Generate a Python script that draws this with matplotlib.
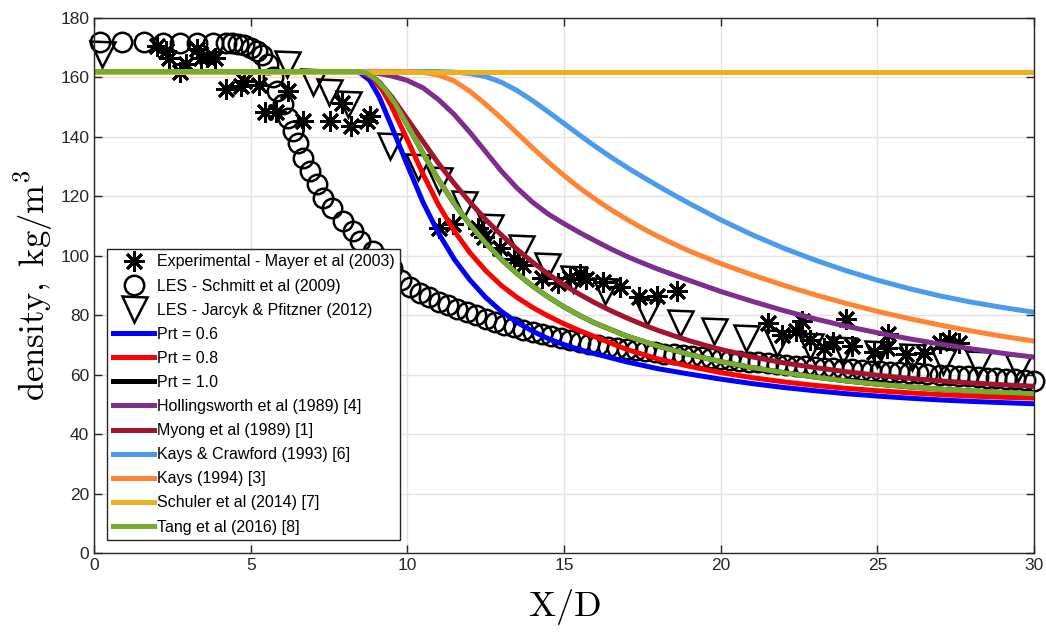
import matplotlib
matplotlib.use("Agg")
import matplotlib.pyplot as plt

plt.rcParams['mathtext.fontset'] = 'cm'
plt.rcParams['font.family'] = ['Liberation Sans', 'DejaVu Sans']

# model curves (density vs X/D)
blue_x = [0, 8.2, 8.5, 8.8, 9.1, 9.5, 10.0, 10.5, 11.0, 11.5, 12.0, 12.5, 13.0, 13.5, 14.0, 14.5, 15.0, 15.5, 16.0,
          17.0, 18.0, 19.0, 20.0, 21.0, 22.0, 23.0, 24.0, 25.0, 26.0, 27.0, 28.0, 29.0, 30.0]
blue_y = [162, 162, 161.5, 159, 153.5, 143.5, 130.5, 118, 107.5, 98.8, 91.8, 86, 81.3, 77.6, 74.6, 72.1, 70.1, 68.4, 67,
          64.3, 62, 60.2, 58.5, 57, 55.7, 54.6, 53.6, 52.8, 52.1, 51.5, 51, 50.6, 50.2]

red_x = [0, 8.3, 8.6, 8.9, 9.2, 9.5, 10.0, 10.5, 11.0, 11.5, 12.0, 12.5, 13.0, 13.5, 14.0, 14.5, 15.0, 15.5, 16.0,
         17.0, 18.0, 19.0, 20.0, 21.0, 22.0, 23.0, 24.0, 25.0, 26.0, 27.0, 28.0, 29.0, 30.0]
red_y = [162, 162, 161.5, 159.8, 155.8, 150.2, 139, 127.5, 117, 108.3, 101, 95, 90, 86, 82.6, 79.7, 77.1, 74.8, 72.7,
         68.5, 65.3, 62.8, 60.7, 59, 57.6, 56.4, 55.4, 54.6, 53.9, 53.3, 52.8, 52.4, 52.1]

prt10_x = [0, 8.4, 8.7, 9.0, 9.3, 9.6, 10.0, 10.5, 11.0, 11.5, 12.0, 12.5, 13.0, 13.5, 14.0, 14.5, 15.0, 15.5, 16.0,
           17.0, 18.0, 19.0, 20.0, 21.0, 22.0, 23.0, 24.0, 25.0, 26.0, 27.0, 28.0, 29.0, 30.0]
prt10_y = [162, 162, 161.5, 159.3, 155.8, 151.3, 144, 134.5, 125.5, 117.5, 110.5, 104.3, 98.8, 94, 89.8, 86.1, 82.8, 79.9, 77.3,
           73, 69.6, 66.8, 64.4, 62.4, 60.7, 59.2, 57.9, 56.8, 55.9, 55.1, 54.5, 54, 53.6]

holl_x = [0, 8.0, 9.0, 9.5, 10.0, 10.5, 11.0, 11.5, 12.0, 12.5, 13.0, 13.5, 14.0, 14.5, 15.0, 15.5, 16.0, 16.5, 17.0,
          17.5, 18.0, 18.5, 19.0, 20.0, 21.0, 22.0, 23.0, 24.0, 25.0, 26.0, 27.0, 28.0, 29.0, 30.0]
holl_y = [162, 162, 161.5, 160.5, 159, 156.5, 152.5, 147.5, 141.5, 135, 128.5, 122.8, 118, 114, 110.8, 107.8, 105, 102.3, 99.8,
          97.6, 95.5, 93.6, 91.7, 88, 84.7, 81.6, 78.8, 76.3, 74.1, 72.1, 70.3, 68.7, 67.2, 65.9]

myong_x = [0, 8.2, 8.5, 8.8, 9.1, 9.5, 10.0, 10.5, 11.0, 11.5, 12.0, 12.5, 13.0, 13.5, 14.0, 14.5, 15.0, 15.5, 16.0, 16.5,
           17.0, 17.5, 18.0, 18.5, 19.0, 19.5, 20.0, 21.0, 22.0, 23.0, 24.0, 25.0, 26.0, 27.0, 28.0, 29.0, 30.0]
myong_y = [162, 162, 161.8, 160.8, 158.5, 153.5, 146, 138.5, 131, 124.3, 118, 112.2, 107, 102.2, 97.8, 93.8, 90.2, 87, 84.1, 81.5,
           79.1, 76.9, 74.9, 73.1, 71.4, 69.9, 68.5, 66, 64, 62.4, 61, 59.8, 58.8, 57.9, 57.2, 56.6, 56.1]

kc_x = [0, 11.0, 11.5, 12.0, 12.5, 13.0, 13.5, 14.0, 14.5, 15.0, 15.5, 16.0, 16.5, 17.0, 17.5, 18.0, 18.5, 19.0,
        20.0, 21.0, 22.0, 23.0, 24.0, 25.0, 26.0, 27.0, 28.0, 29.0, 30.0]
kc_y = [162, 162, 161.8, 161.3, 160.3, 158.4, 155.6, 152.2, 148.4, 144.5, 140.6, 136.8, 133.2, 129.8, 126.6, 123.5, 120.5, 117.6,
        112.1, 107.1, 102.6, 98.6, 95, 91.8, 89, 86.5, 84.4, 82.6, 81]

kays_x = [0, 10.0, 10.5, 11.0, 11.5, 12.0, 12.5, 13.0, 13.5, 14.0, 14.5, 15.0, 15.5, 16.0, 16.5, 17.0, 17.5, 18.0, 18.5, 19.0,
          20.0, 21.0, 22.0, 23.0, 24.0, 25.0, 26.0, 27.0, 28.0, 29.0, 30.0]
kays_y = [162, 162, 161.7, 160.8, 158.8, 155.3, 151, 146.3, 141.3, 136.3, 131.5, 127, 122.8, 119, 115.5, 112.3, 109.3, 106.5, 104, 101.6,
          97.4, 93.6, 90.1, 86.9, 84, 81.3, 78.9, 76.7, 74.7, 72.9, 71.3]

schuler_x = [0, 30]
schuler_y = [162, 162]

tang_x = [0, 8.4, 8.7, 9.0, 9.3, 9.6, 10.0, 10.5, 11.0, 11.5, 12.0, 12.5, 13.0, 13.5, 14.0, 14.5, 15.0, 15.5, 16.0,
          17.0, 18.0, 19.0, 20.0, 21.0, 22.0, 23.0, 24.0, 25.0, 26.0, 27.0, 28.0, 29.0, 30.0]
tang_y = [162, 162, 161.5, 159.3, 155.8, 151.3, 144, 134.5, 125.5, 117.5, 110.5, 104.3, 98.8, 94, 89.8, 86.1, 82.8, 79.9, 77.3,
          73, 69.6, 66.8, 64.4, 62.4, 60.7, 59.2, 57.9, 56.8, 55.9, 55.1, 54.5, 54, 53.6]

# experimental / LES data
mayer_x = [2.0, 2.3, 2.4, 2.75, 2.95, 3.3, 3.4, 3.6, 3.85, 4.2, 4.7, 4.8, 5.25, 5.45, 5.8, 6.2, 6.67, 7.53, 7.92, 8.2, 8.7, 8.8,
           11.0, 11.45, 12.25, 12.45, 12.96, 13.4, 13.7, 14.3, 14.8, 15.2, 15.5, 15.7, 16.25, 16.8, 17.4, 17.97, 18.6,
           21.5, 21.95, 22.4, 22.6, 22.85, 23.3, 23.6, 24.0, 24.2, 24.9, 25.3, 25.35, 25.9, 26.5, 27.0, 27.3, 27.6]
mayer_y = [170.5, 168.8, 166.4, 162, 164.4, 169.5, 166.4, 167, 166.4, 156.2, 157, 158.7, 157.5, 148.5, 148.3, 155.4, 145.3, 145.3, 151.5, 143.6, 145.3, 147,
           109.5, 110.8, 109.4, 106.3, 102.7, 99, 96.8, 92.6, 90.8, 92.6, 94, 92.3, 91.2, 89.6, 86, 86.3, 88,
           77.5, 73.5, 74.8, 78.2, 71.5, 69.1, 71, 78.6, 69.5, 67.5, 69, 73.8, 66.8, 67.3, 70.8, 71.5, 70.6]

schmitt_x = [0.2, 0.9, 1.6, 2.2, 2.75, 3.3, 3.8, 4.2, 4.4, 4.6, 4.8, 5.0, 5.2, 5.36, 5.55, 5.7, 5.84, 6.03, 6.2, 6.35, 6.5, 6.67,
             6.9, 7.12, 7.3, 7.6, 7.95, 8.27, 8.5, 8.9, 9.2, 9.5, 9.8, 10.1, 10.4, 10.7, 11.0, 11.3, 11.6, 11.9, 12.2, 12.5,
             12.8, 13.1, 13.4, 13.7, 14.0, 14.3, 14.6, 14.9, 15.2, 15.5, 15.8, 16.1, 16.4, 16.7, 17.0, 17.3, 17.6, 17.9,
             18.2, 18.5, 18.8, 19.1, 19.4, 19.7, 20.0, 20.3, 20.6, 20.9, 21.2, 21.5, 21.8, 22.1, 22.4, 22.7, 23.0, 23.3,
             23.6, 23.9, 24.2, 24.5, 24.8, 25.1, 25.4, 25.7, 26.0, 26.3, 26.6, 27.0, 27.3, 27.6, 27.9, 28.2, 28.5, 28.8,
             29.1, 29.4, 29.7, 30.0]
schmitt_y = [172, 172, 172, 171.5, 171.5, 171.5, 171.5, 171.5, 171.5, 171.3, 171, 170, 169, 167.5, 164.5, 160, 155.5, 151, 146.5, 142, 138, 133,
             128.5, 124.2, 119.5, 116, 111.7, 108.4, 105, 101.7, 99, 96, 92, 89.5, 87.5, 86, 84.5, 83.3, 82.2, 81.2, 80, 78.8,
             77.8, 76.8, 75.9, 75.1, 74.4, 73.6, 72.9, 72.2, 71.5, 70.9, 70.4, 69.9, 69.4, 69, 68.6, 68.2, 67.8, 67.5,
             67.1, 66.8, 66.5, 66.2, 65.9, 65.6, 65.3, 65, 64.7, 64.4, 64.1, 63.8, 63.6, 63.3, 63, 62.8, 62.6, 62.4,
             62.2, 62, 61.8, 61.6, 61.4, 61.2, 61, 60.8, 60.6, 60.4, 60.2, 60, 59.8, 59.6, 59.4, 59.2, 59, 58.8,
             58.6, 58.4, 58.2, 58]

jarcyk_x = [0.25, 6.16, 6.98, 7.5, 8.1, 9.45, 10.35, 11.0, 11.8, 12.64, 13.63, 14.46, 15.3, 16.3, 17.65, 18.7, 19.8, 20.8,
            21.8, 22.85, 23.9, 25.0, 26.1, 27.1, 28.2, 29.5]
jarcyk_y = [168, 164.4, 158.5, 155, 151, 136.8, 130, 125.5, 117.4, 109.7, 102.5, 96.6, 92.3, 88, 81, 77.5, 74.8, 72.5,
            70.7, 69.5, 68.3, 67, 65.8, 64.7, 63.5, 62.4]

fig = plt.figure(figsize=(10.46, 6.37), dpi=100)
ax = fig.add_axes([0.0899, 0.1319, 0.8986, 0.8398])

asterisk = (8, 2, 0)
ax.plot(mayer_x, mayer_y, ls='none', marker=asterisk, ms=15, mew=2.0, color='k', clip_on=False,
        label='Experimental - Mayer et al (2003)')
ax.plot(schmitt_x, schmitt_y, ls='none', marker='o', ms=14, mew=1.8, mfc='none', mec='k', clip_on=False,
        label='LES - Schmitt et al (2009)')
ax.plot(jarcyk_x, jarcyk_y, ls='none', marker='v', ms=18, mew=1.8, mfc='none', mec='k', clip_on=False,
        label='LES - Jarcyk & Pfitzner (2012)')

lw = 3.6
ax.plot(blue_x, blue_y, color='#0000FF', lw=lw, label='Prt = 0.6')
ax.plot(red_x, red_y, color='#FF0000', lw=lw, label='Prt = 0.8')
ax.plot(prt10_x, prt10_y, color='k', lw=lw, label='Prt = 1.0')
ax.plot(holl_x, holl_y, color='#7E2F8E', lw=lw, label='Hollingsworth et al (1989) [4]')
ax.plot(myong_x, myong_y, color='#A2142F', lw=lw, label='Myong et al (1989) [1]')
ax.plot(kc_x, kc_y, color='#4A9BEE', lw=lw, label='Kays & Crawford (1993) [6]')
ax.plot(kays_x, kays_y, color='#FF8535', lw=lw, label='Kays (1994) [3]')
ax.plot(schuler_x, schuler_y, color='#EDB120', lw=lw, label='Schuler et al (2014) [7]')
ax.plot(tang_x, tang_y, color='#77AC30', lw=lw, label='Tang et al (2016) [8]')

ax.set_xlim(0, 30)
ax.set_ylim(0, 180)
ax.set_xticks(range(0, 31, 5))
ax.set_yticks(range(0, 181, 20))
ax.grid(True, color='#E3E3E3', lw=1)
ax.set_axisbelow(True)
ax.tick_params(direction='in', top=True, right=True, labelsize=12.5, length=6, width=1, colors='#262626')
for s in ax.spines.values():
    s.set_color('#262626')
    s.set_linewidth(1)

ax.set_xlabel(r'$\mathrm{X/D}$', fontsize=26, labelpad=10)
ax.set_ylabel(r'$\mathrm{density,\ kg/m^3}$', fontsize=25, labelpad=4)

leg = ax.legend(loc='lower left', bbox_to_anchor=(0.014, 0.024), borderaxespad=0, fontsize=11.5,
                handlelength=2.6, handletextpad=0.15, labelspacing=0.57, borderpad=0.35,
                fancybox=False, framealpha=1, edgecolor='#262626')
leg.get_frame().set_linewidth(1)

fig.savefig('out.png', dpi=100)
